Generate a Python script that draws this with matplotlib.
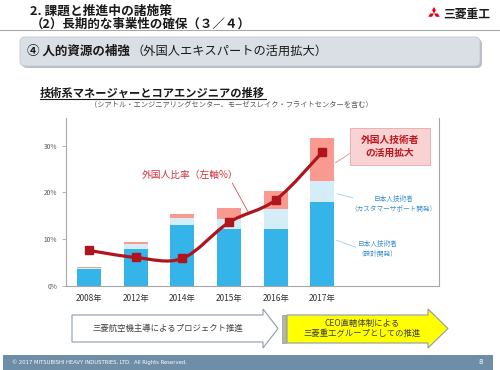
import matplotlib
matplotlib.use("Agg")
import matplotlib.pyplot as plt
from matplotlib.patches import Rectangle, Polygon, FancyBboxPatch
from matplotlib.path import Path
from matplotlib.patches import PathPatch
import numpy as np

plt.rcParams['font.family'] = ['Noto Sans CJK JP', 'DejaVu Sans']

# ---- data ----
years = ["2008年", "2012年", "2014年", "2015年", "2016年", "2017年"]
jp_design = [3.6, 7.9, 13.0, 12.2, 12.2, 18.0]      # 日本人技術者（設計開発）
jp_support = [0.2, 1.0, 1.5, 2.2, 4.2, 4.4]        # 日本人技術者（カスタマーサポート開発）
foreign = [0.3, 0.5, 0.9, 2.3, 4.0, 9.2]           # 外国人技術者
foreign_ratio = [7.6, 6.1, 5.9, 13.6, 18.4, 28.6]  # 外国人比率（左軸%）
yticks = [0, 10, 20, 30]

W, H = 500, 370
fig = plt.figure(figsize=(W / 100, H / 100), dpi=100)

# overlay axes in pixel coordinates (top-left origin)
ov = fig.add_axes([0, 0, 1, 1], zorder=0)
ov.set_xlim(0, W)
ov.set_ylim(H, 0)
ov.axis('off')

# Header
ov.text(30, 11, "2. 課題と推進中の諸施策", fontsize=9.2, fontweight='bold', va='center', ha='left', color='#1a1a1a')
ov.text(31, 24, "（2）長期的な事業性の確保（３／４）", fontsize=9.0, fontweight='bold', va='center', ha='left', color='#1a1a1a')
ov.plot([0, W], [29.5, 29.5], color='#a9a9a9', lw=0.8)

# Logo
c = np.array([434.0, 13.5])
L = 6.6
w = L / 2 * np.tan(np.radians(30))
for d in [(0, -1), (-0.866, 0.5), (0.866, 0.5)]:
    d = np.array(d)
    p = np.array([-d[1], d[0]])
    pts = [c, c + d * L / 2 + p * w, c + d * L, c + d * L / 2 - p * w]
    ov.add_patch(Polygon(pts, closed=True, facecolor='#e60012', edgecolor='none'))
ov.text(443, 14, "三菱重工", fontsize=8.5, fontweight='bold', va='center', ha='left', color='#1a1a1a')

# Section box
ov.add_patch(FancyBboxPatch((22, 39), 460, 29, boxstyle="round,pad=0,rounding_size=5",
                            facecolor='#b9bec6', edgecolor='none'))
ov.add_patch(FancyBboxPatch((20, 37), 460, 29, boxstyle="round,pad=0,rounding_size=5",
                            facecolor='#dadfe6', edgecolor='#c4c9d0', lw=0.6))
ov.text(27, 51.5, "④ 人的資源の補強", fontsize=9.0, fontweight='bold', va='center', ha='left', color='#1a1a1a')
ov.text(132, 51.5, "（外国人エキスパートの活用拡大）", fontsize=8.8, va='center', ha='left', color='#1a1a1a')

# Chart title
ov.text(40, 93, "技術系マネージャーとコアエンジニアの推移", fontsize=8.1, fontweight='bold', va='center', ha='left', color='#1a1a1a')
ov.plot([40, 266], [99, 99], color='#1a1a1a', lw=0.8)
ov.text(90, 104.5, "（シアトル・エンジニアリングセンター、モーゼスレイク・フライトセンターを含む）",
        fontsize=5.2, va='center', ha='left', color='#555555')

# Bottom arrows
white_arrow = [(72, 315), (263, 315), (263, 309), (278, 328.5), (263, 348), (263, 342), (72, 342)]
ov.add_patch(Polygon(white_arrow, closed=True, facecolor='white', edgecolor='#8c9cab', lw=0.8))
ov.text(168, 328.5, "三菱航空機主導によるプロジェクト推進", fontsize=6, va='center', ha='center', color='#404040')
ov.add_patch(Rectangle((281.5, 315), 4.5, 28, facecolor='#b5b5a0', edgecolor='#8c9cab', lw=0.5))
yellow_arrow = [(287, 315), (428, 315), (428, 309), (448, 328.5), (428, 348), (428, 343), (287, 343)]
ov.add_patch(Polygon(yellow_arrow, closed=True, facecolor='#ffff00', edgecolor='#8c9cab', lw=0.8))
ov.text(362, 328.5, "CEO直轄体制による\n三菱重工グループとしての推進", fontsize=6, va='center', ha='center',
        color='#404040', linespacing=1.25)

# Footer
ov.add_patch(Rectangle((3, 355), 490, 15, facecolor='#6d8ea6', edgecolor='none'))
ov.text(12, 362.5, "© 2017 MITSUBISHI HEAVY INDUSTRIES, LTD.  All Rights Reserved.", fontsize=3.8,
        va='center', ha='left', color='white', family=['DejaVu Sans'])
ov.text(481, 362.5, "8", fontsize=5, va='center', ha='center', color='white', family=['DejaVu Sans'])

# ---- chart axes ----
ax = fig.add_axes([65.7 / W, 1 - 286 / H, (439 - 65.7) / W, (286 - 118) / H], zorder=2)
ax.patch.set_alpha(0)
x = np.arange(len(years))
bw = 0.52
c_blue, c_light, c_pink = '#35b4ea', '#d5edf9', '#f99a90'
b1 = np.array(jp_design)
b2 = b1 + np.array(jp_support)
ax.bar(x, jp_design, bw, color=c_blue, edgecolor='none', zorder=2)
ax.bar(x, jp_support, bw, bottom=b1, color=c_light, edgecolor='none', zorder=2)
ax.bar(x, foreign, bw, bottom=b2, color=c_pink, edgecolor='none', zorder=2)

# smooth line through the ratio points (Catmull-Rom -> cubic Bezier)
P = np.column_stack([x, foreign_ratio]).astype(float)
verts = [P[0]]
codes = [Path.MOVETO]
n = len(P)
for i in range(n - 1):
    p0 = P[i - 1] if i > 0 else P[i]
    p1, p2 = P[i], P[i + 1]
    p3 = P[i + 2] if i + 2 < n else P[i + 1]
    c1 = p1 + (p2 - p0) / 6
    c2 = p2 - (p3 - p1) / 6
    verts += [c1, c2, p2]
    codes += [Path.CURVE4] * 3
ax.add_patch(PathPatch(Path(verts, codes), facecolor='none', edgecolor='#b0141c', lw=2.3, zorder=3,
                       capstyle='round'))
ax.plot(x, foreign_ratio, linestyle='none', marker='s', markersize=6, color='#b0141c', zorder=4)

ax.set_xlim(-0.5, 7.5)
ax.set_ylim(0, 35.9)
ax.set_yticks(yticks)
ax.set_yticklabels([f"{v}%" for v in yticks], fontsize=4.8, color='#595959')
ax.set_xticks(x)
ax.set_xticklabels(years, fontsize=6, color='#333333')
ax.tick_params(axis='x', length=0, pad=6)
ax.tick_params(axis='y', length=3, width=0.6, color='#a6a6a6', pad=3)
for s in ['left', 'bottom', 'right']:
    ax.spines[s].set_color('#a6a6a6')
    ax.spines[s].set_linewidth(0.8)
ax.spines['top'].set_visible(False)

# annotations
ax.text(2.17, 23.7, "外国人比率（左軸%）", fontsize=7, color='#d0343c', ha='center', va='center')
ax.plot([3.07, 3.41], [22.0, 15.8], color='#d0343c', lw=0.5)

ax.add_patch(Rectangle((5.6, 25.9), 1.7, 7.9, facecolor='#f9d3d3', edgecolor='#f0a4a4', lw=0.6, zorder=3))
ax.text(6.45, 29.85, "外国人技術者\nの活用拡大", fontsize=7, fontweight='bold', color='#c0161e',
        ha='center', va='center', linespacing=1.35, zorder=4)
ax.plot([5.6, 5.28], [28.4, 26.3], color='#e07070', lw=0.5)

ax.text(6.52, 17.6, "日本人技術者\n（カスタマーサポート開発）", fontsize=4.8, color='#3a8fcf',
        ha='center', va='center', linespacing=1.3)
ax.plot([5.32, 5.66], [19.7, 18.8], color='#8cc8e8', lw=0.5)
ax.text(6.18, 7.9, "日本人技術者\n（設計開発）", fontsize=4.8, color='#3a8fcf',
        ha='center', va='center', linespacing=1.3)
ax.plot([5.30, 5.71], [9.8, 8.3], color='#8cc8e8', lw=0.5)

fig.savefig("out.png", dpi=100)
